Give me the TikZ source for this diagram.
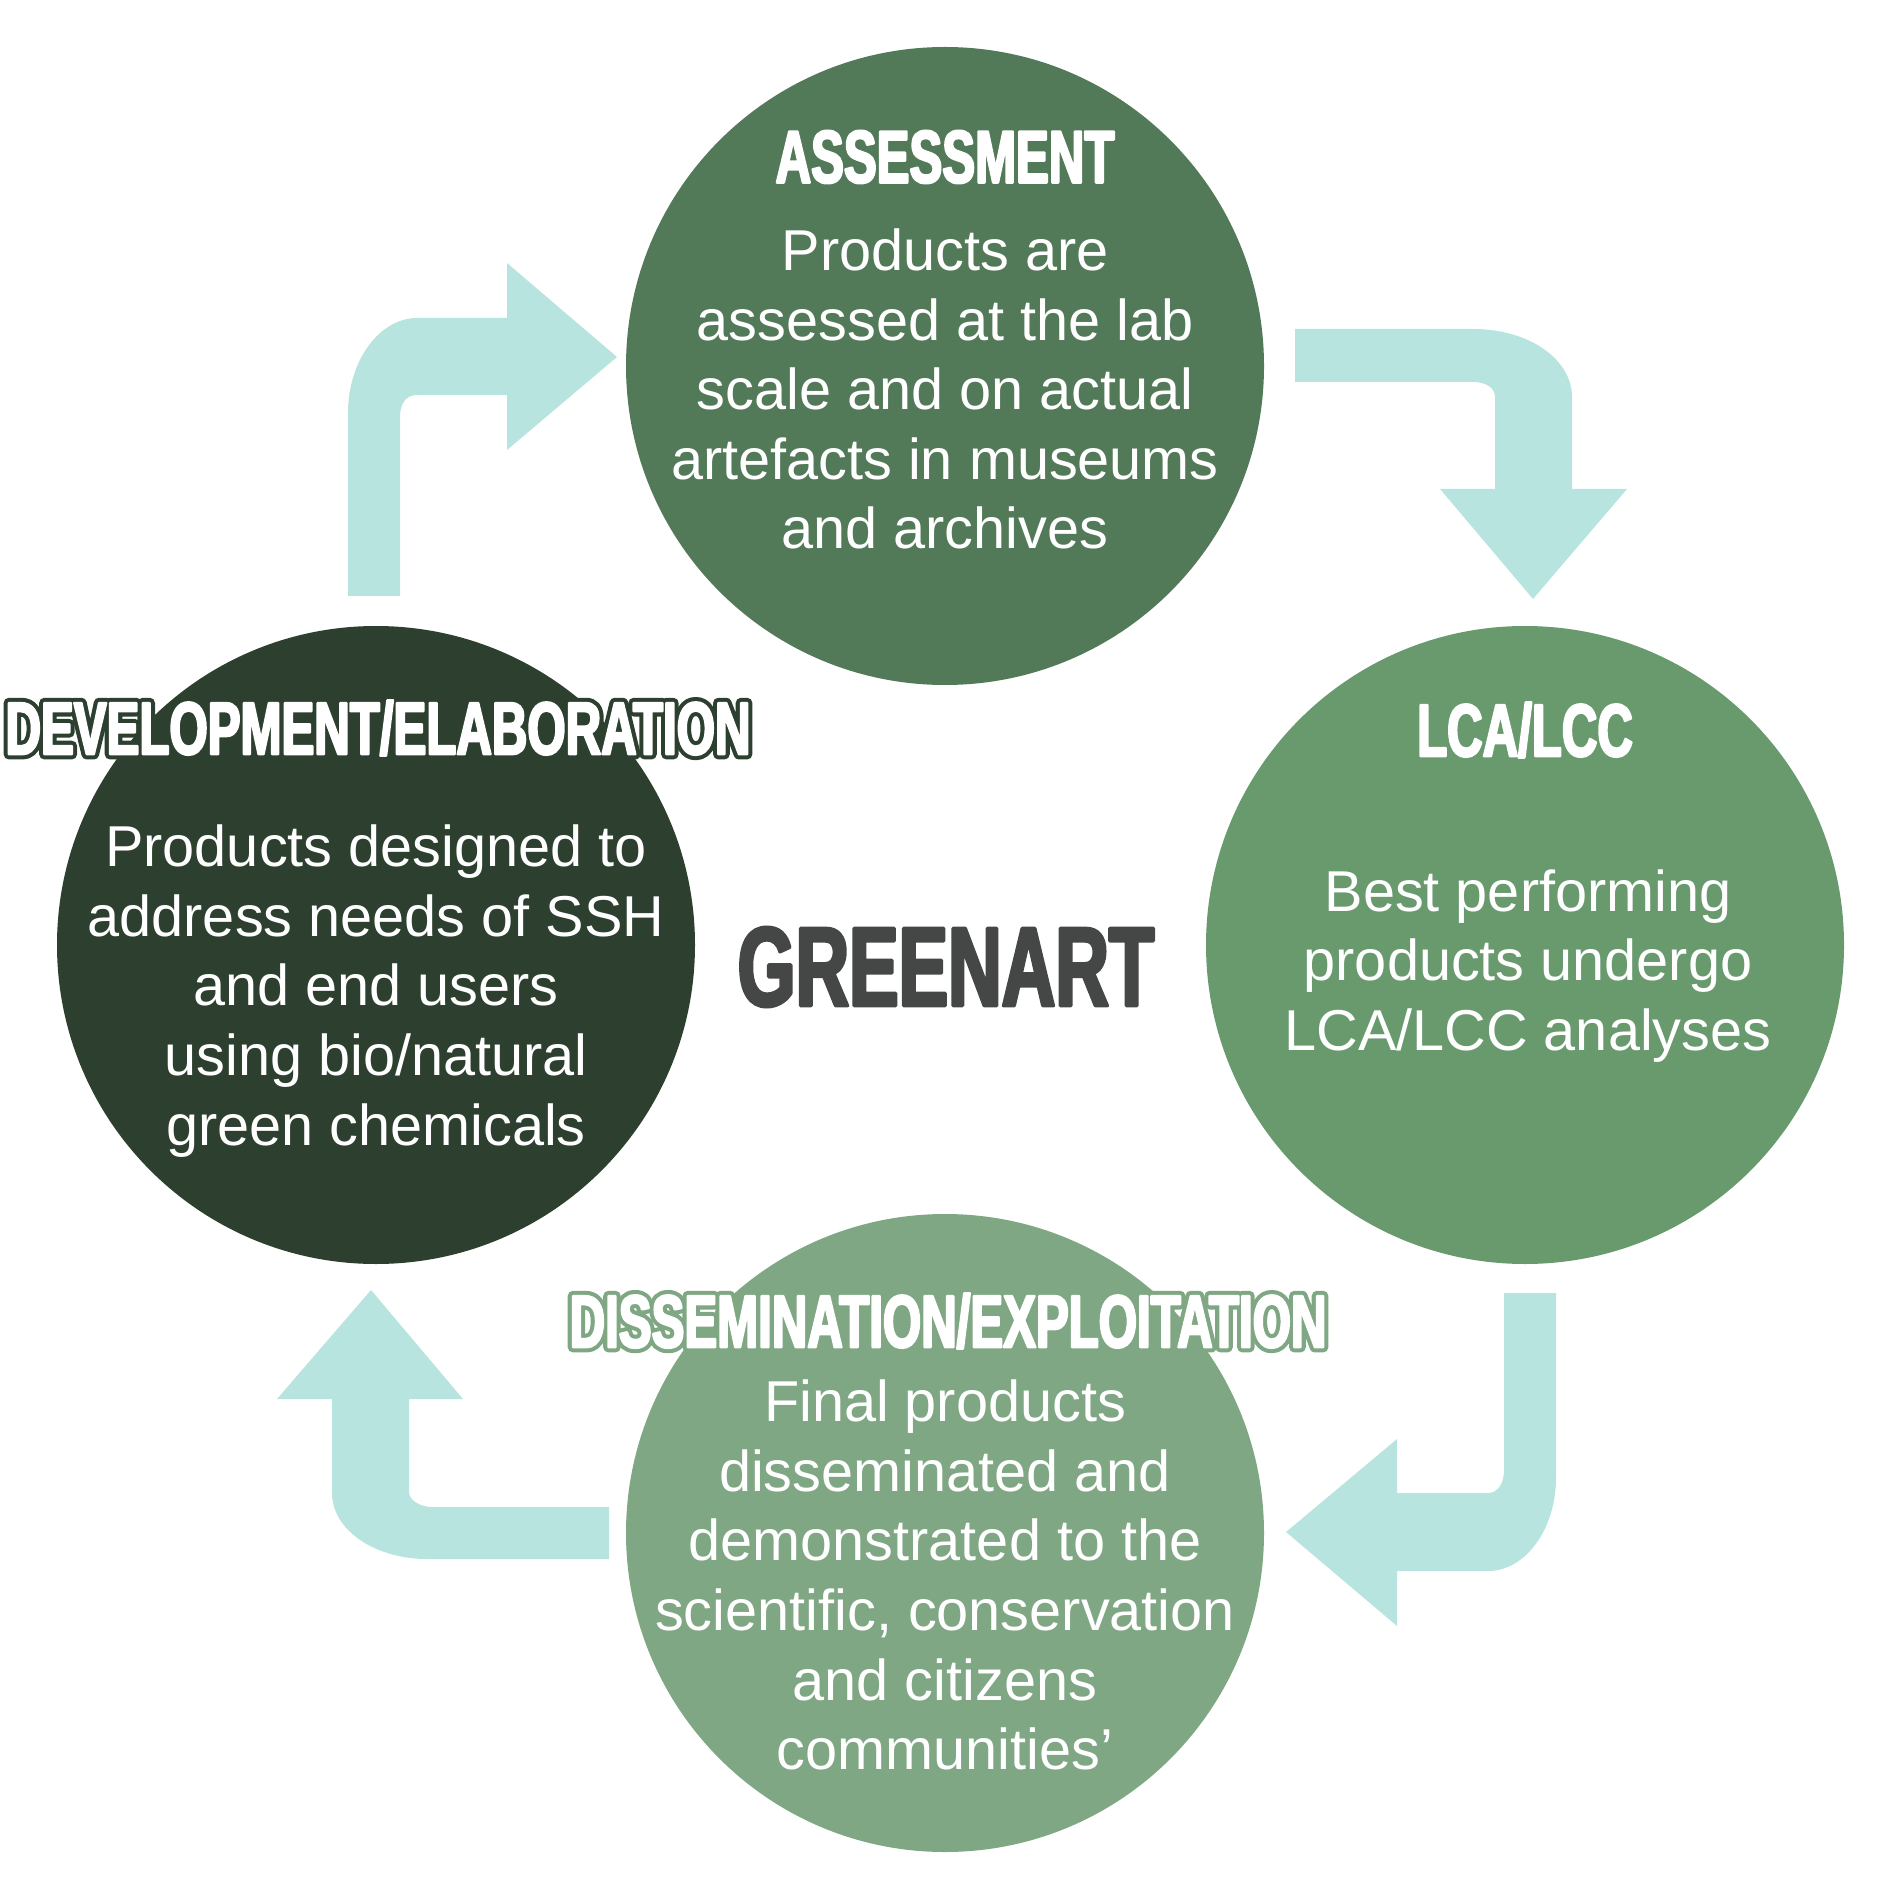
\documentclass[tikz,border=0pt]{standalone}
\usepackage{fontspec}
\setmainfont{Liberation Sans}
\newfontfamily\headfont[FakeStretch=0.66,FakeBold=3]{Liberation Sans Bold}
\newfontfamily\headedge[FakeStretch=0.66,FakeBold=14]{Liberation Sans Bold}
\usepackage{tikz}
\definecolor{asm}{HTML}{537A58}
\definecolor{lca}{HTML}{689A6E}
\definecolor{dev}{HTML}{2D4030}
\definecolor{dis}{HTML}{7FA783}
\definecolor{arw}{HTML}{B8E4DF}
\definecolor{ttl}{HTML}{444745}
\newcommand{\roundjoin}{\special{pdf:literal direct 1 j 1 J}}
\newcommand{\outlined}[2]{{\rlap{\color{#1}\headedge #2}#2}}
\tikzset{
  phase/.style={circle,minimum size=63.8mm,inner sep=0pt},
  head/.style={text=white,inner sep=0pt,font={\roundjoin\headfont\fontsize{21.2}{24}\selectfont}},
  body/.style={text=white,align=center,inner sep=0pt,font={\fontsize{16.4}{19.8}\selectfont}}
}
\newcommand{\arrowNW}{%
  \fill[arw] (348,596) -- (348,413) .. controls (348,360) and (380,318) .. (417,318)
    -- (507,318) -- (507,263) -- (617,357) -- (507,450) -- (507,395) -- (417,395)
    .. controls (405,395) and (400,405) .. (400,417) -- (400,596) -- cycle;
}
\newcommand{\arrowNE}{%
  \fill[arw] (1295,329) -- (1473,329) .. controls (1530,329) and (1572,360) .. (1572,397)
    -- (1572,489) -- (1627,489) -- (1533,599) -- (1440,489) -- (1495,489) -- (1495,397)
    .. controls (1495,388) and (1486,382) .. (1473,382) -- (1295,382) -- cycle;
}
\newcommand{\arrowSE}{%
  \fill[arw] (1556,1293) -- (1556,1477) .. controls (1556,1530) and (1525,1571) .. (1488,1571)
    -- (1397,1571) -- (1397,1626) -- (1286,1532) -- (1397,1439) -- (1397,1493) -- (1488,1493)
    .. controls (1498,1493) and (1504,1483) .. (1504,1470) -- (1504,1293) -- cycle;
}
\newcommand{\arrowSW}{%
  \fill[arw] (609,1559) -- (427,1559) .. controls (375,1559) and (332,1530) .. (332,1493)
    -- (332,1399) -- (277,1399) -- (371,1290) -- (463,1399) -- (409,1399) -- (409,1492)
    .. controls (409,1500) and (420,1507) .. (432,1507) -- (609,1507) -- cycle;
}
\begin{document}
\begin{tikzpicture}[x=0.1mm,y=-0.1mm]
\useasboundingbox (0,0) rectangle (1890,1890);
\arrowNW \arrowNE \arrowSE \arrowSW
\node[phase,fill=asm] (assess) at (945,366) {};
\node[phase,fill=lca] (lcalcc) at (1525,945) {};
\node[phase,fill=dev] (devel) at (376,945) {};
\node[phase,fill=dis] (dissem) at (945,1533) {};
\node[head] (assesshead) at (945,157) {ASSESSMENT};
\node[body] (assessbody) at (945,389) {Products are\\assessed at the lab\\scale and on actual\\artefacts in museums\\and archives};
\node[head] (lcahead) at (1525,730) {LCA/LCC};
\node[body] (lcabody) at (1528,966) {Best performing\\products undergo\\LCA/LCC analyses};
\node[head] (develhead) at (378,728) {\outlined{dev}{DEVELOPMENT/ELABORATION}};
\node[body] (develbody) at (376,991) {Products designed to\\address needs of SSH\\and end users\\using bio/natural\\green chemicals};
\node[head] (dissemhead) at (948,1321) {\outlined{dis}{DISSEMINATION/EXPLOITATION}};
\node[body] (dissembody) at (945,1575) {Final products\\disseminated and\\demonstrated to the\\scientific, conservation\\and citizens\\communities’};
\node[text=ttl,inner sep=0pt,font={\roundjoin\headfont\fontsize{32}{36}\selectfont}] (title) at (946,967) {GREENART};
\end{tikzpicture}
\end{document}
